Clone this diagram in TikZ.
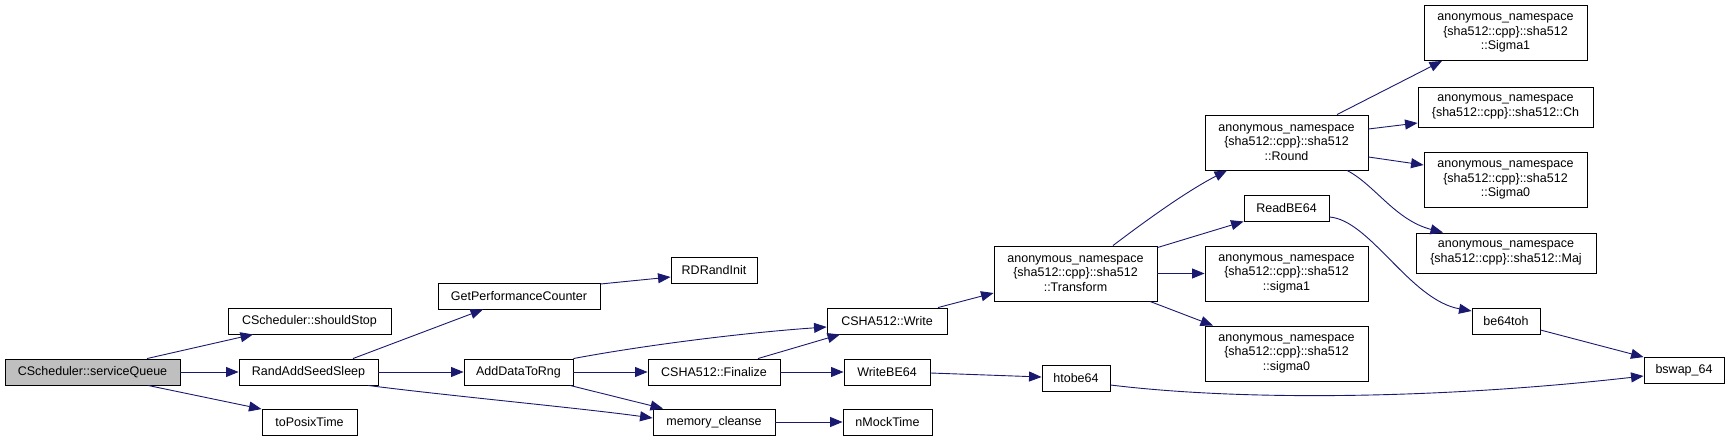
\documentclass[tikz,border=0pt]{standalone}
\usepackage{fontspec}
\setmainfont{Liberation Sans}
\usepackage{xcolor}
\usepackage{tikz}
\usetikzlibrary{arrows.meta}
\definecolor{callblue}{HTML}{191970}
\definecolor{rootgray}{HTML}{BFBFBF}

\begin{document}
\begin{tikzpicture}[
    x=1pt, y=-1pt,
    every node/.style={font=\fontsize{12.5}{14.5}\selectfont},
    fn/.style={draw=black, fill=white, line width=0.9pt, minimum width=#1, minimum height=26pt, inner sep=1pt, align=center},
    fnl/.style={fn=#1, minimum height=55pt},
    fnm/.style={fn=#1, minimum height=40pt},
    call/.style={-{Triangle[length=12.5pt, width=10pt]}, draw=callblue, line width=0.9pt}
]
\useasboundingbox (0,0) rectangle (1729,441);

\node[fn=175pt, fill=rootgray] (sq) at (92.5,372) {CScheduler::serviceQueue};
\node[fn=163pt] (stop) at (309.5,321) {CScheduler::shouldStop};
\node[fn=139pt] (rass) at (308.5,372) {RandAddSeedSleep};
\node[fn=95pt] (posix) at (309.5,422.5) {toPosixTime};
\node[fn=162pt] (gpc) at (519,296) {GetPerformanceCounter};
\node[fn=109pt] (adr) at (518.5,372) {AddDataToRng};
\node[fn=86pt] (rdr) at (714,270) {RDRandInit};
\node[fn=132pt] (fin) at (714,372) {CSHA512::Finalize};
\node[fn=122pt] (mc) at (714,422) {memory\_cleanse};
\node[fn=120pt] (write) at (887,321) {CSHA512::Write};
\node[fn=86pt] (wbe) at (887,372) {WriteBE64};
\node[fn=89pt] (nmt) at (887.5,422) {nMockTime};
\node[fnl=163pt] (trans) at (1075.5,273.5) {anonymous\_namespace\\\{sha512::cpp\}::sha512\\::Transform};
\node[fn=68pt] (htobe) at (1076,378.5) {htobe64};
\node[fnl=163pt] (round) at (1286.5,142.5) {anonymous\_namespace\\\{sha512::cpp\}::sha512\\::Round};
\node[fn=85pt] (rbe) at (1286.5,208) {ReadBE64};
\node[fnl=163pt] (sone) at (1286.5,273.5) {anonymous\_namespace\\\{sha512::cpp\}::sha512\\::sigma1};
\node[fnl=163pt] (szero) at (1286.5,353.5) {anonymous\_namespace\\\{sha512::cpp\}::sha512\\::sigma0};
\node[fnl=163pt] (bsone) at (1505.5,33) {anonymous\_namespace\\\{sha512::cpp\}::sha512\\::Sigma1};
\node[fnm=175pt] (ch) at (1505.5,107) {anonymous\_namespace\\\{sha512::cpp\}::sha512::Ch};
\node[fnl=163pt] (bszero) at (1505.5,180) {anonymous\_namespace\\\{sha512::cpp\}::sha512\\::Sigma0};
\node[fnm=180pt] (maj) at (1506,253) {anonymous\_namespace\\\{sha512::cpp\}::sha512::Maj};
\node[fn=68pt] (be) at (1506,321.5) {be64toh};
\node[fn=80pt] (bswap) at (1684,370.5) {bswap\_64};

% calls
\draw[call] ([xshift=54.5pt]sq.north) -- ([xshift=-56.5pt]stop.south);
\draw[call] (sq) -- (rass);
\draw[call] ([xshift=55.5pt]sq.south) -- (posix.north west);
\draw[call] ([xshift=44.5pt]rass.north) -- ([xshift=-36pt]gpc.south);
\draw[call] (rass) -- (adr);
\draw[call] ([xshift=59.5pt]rass.south) .. controls (450,396) and (580,408) .. ([yshift=4pt]mc.west);
\draw[call] ([yshift=12pt]gpc.east) -- ([yshift=-7pt]rdr.west);
\draw[call] (adr.north east) .. controls (640,346) and (740,333) .. ([yshift=-6pt]write.west);
\draw[call] (adr) -- (fin);
\draw[call] ([xshift=51.5pt]adr.south) -- ([xshift=-51pt]mc.north);
\draw[call] ([xshift=44pt]fin.north) -- ([xshift=-47pt]write.south);
\draw[call] (fin) -- (wbe);
\draw[call] (mc) -- (nmt);
\draw[call] ([xshift=51pt]write.north) -- ([yshift=-19.5pt]trans.west);
\draw[call] ([yshift=-1pt]wbe.east) -- ([yshift=1.5pt]htobe.west);
\draw[call] ([xshift=37.5pt]trans.north) .. controls (1140,225) and (1185,192) .. ([xshift=-59.5pt]round.south);
\draw[call] ([yshift=-2pt]trans.north east) -- (rbe.south west);
\draw[call] (trans) -- (sone);
\draw[call] ([xshift=74.5pt]trans.south) -- ([xshift=-73.5pt]szero.north);
\draw[call] ([xshift=50.5pt]round.north) -- ([xshift=-63.5pt]bsone.south);
\draw[call] ([yshift=13.5pt]round.east) -- ([yshift=-16pt]ch.west);
\draw[call] ([yshift=-14.5pt]round.east) -- ([yshift=15pt]bszero.west);
\draw[call] ([xshift=60.5pt]round.south) .. controls (1375,185) and (1395,220) .. ([xshift=-63pt]maj.north);
\draw[call] ([yshift=-9pt]rbe.east) .. controls (1370,220) and (1410,300) .. ([yshift=10.5pt]be.west);
\draw[call] ([yshift=-8.5pt]be.east) -- (bswap.north west);
\draw[call] ([yshift=-6.5pt]htobe.east) .. controls (1250,402) and (1450,398) .. ([yshift=-5.5pt]bswap.west);
\end{tikzpicture}
\end{document}
